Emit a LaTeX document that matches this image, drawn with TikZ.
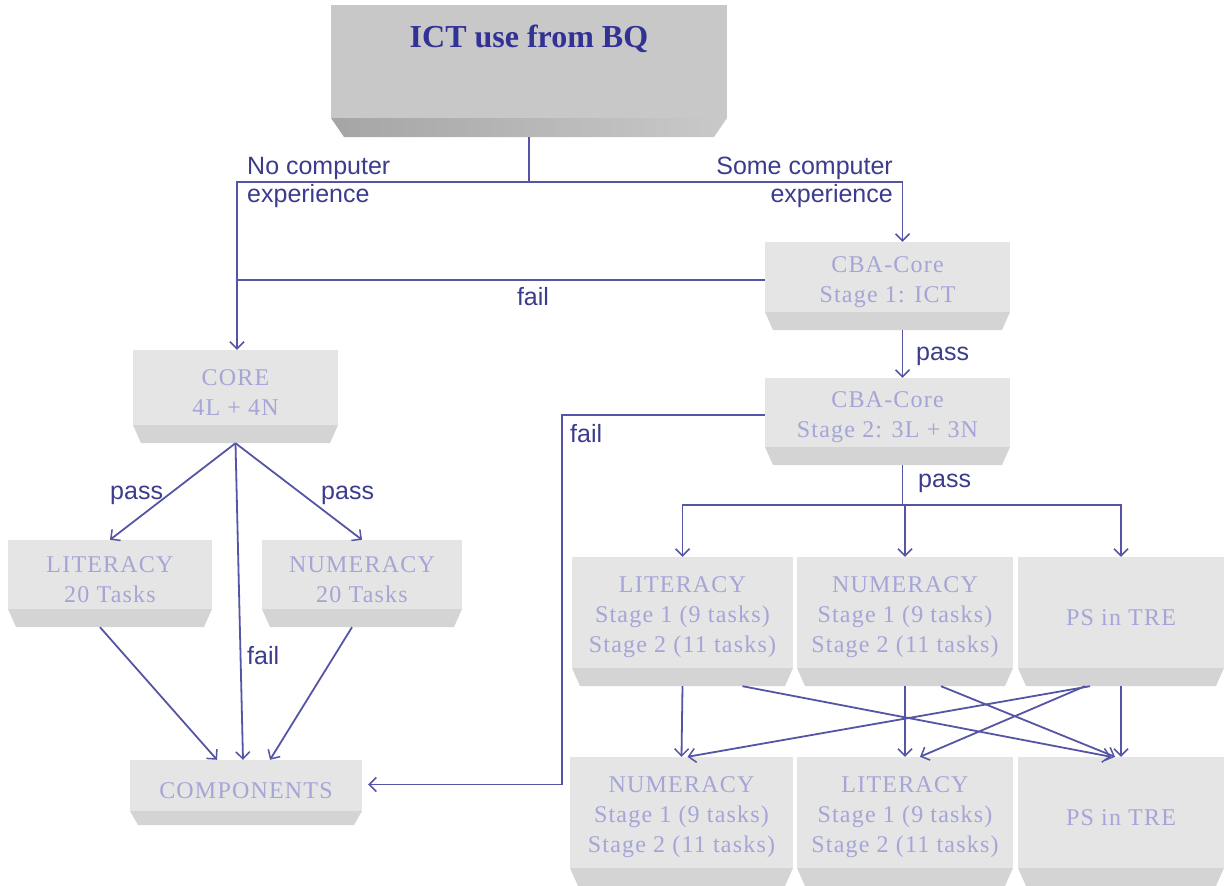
\documentclass[tikz,border=0pt]{standalone}
\usepackage{fontspec}
\setmainfont{Liberation Serif}
\newfontfamily\labfont{Liberation Sans}
\newfontfamily\boxfont[LetterSpace=5]{Liberation Serif}
\usetikzlibrary{arrows.meta,calc,fit}
\definecolor{ln}{RGB}{85,85,165}
\definecolor{labc}{RGB}{60,60,140}
\definecolor{face}{RGB}{229,229,229}
\definecolor{bev}{RGB}{212,212,212}
\definecolor{btxt}{RGB}{165,165,215}
\definecolor{tface}{RGB}{200,200,200}
\definecolor{tbev}{RGB}{165,165,165}
\definecolor{ttxt}{RGB}{50,50,150}
\tikzset{
  line/.style={draw=ln, line width=1.8pt},
  arr/.style={line, -{Straight Barb[length=7pt,width=14pt,line width=1.5pt]}},
  boxtext/.style={font=\boxfont\fontsize{24}{30}\selectfont, text=btxt, align=center, inner sep=0},
  lab/.style={font=\labfont\fontsize{25}{28}\selectfont, text=labc, inner sep=0},
}
\newcommand\bevbox[7]{%
  \fill[face] (#2,#3) rectangle (#4,{#5-#6});
  \fill[bev] (#2,{#5-#6}) -- (#4,{#5-#6}) -- ({#4-8},#5) -- ({#2+8},#5) -- cycle;
  \path (#2,#3) coordinate (#1-nw) (#4,#5) coordinate (#1-se);
  \node[boxtext] at ({(#2+#4)/2},{(#3+#5-#6)/2+5}) {#7};
  \node[fit=(#1-nw)(#1-se), inner sep=0, draw=none] (#1) {};
}
\begin{document}
\begin{tikzpicture}[x=1pt,y=-1pt]
\useasboundingbox[fill=white] (0,0) rectangle (1224,886);

% top box
\fill[tface] (331,5) rectangle (727,118);
\shade[left color=tbev, right color=tbev!60!white] (331,118) -- (727,118) -- (714,137) -- (344,137) -- cycle;
\path (331,5) coordinate (top-nw) (727,137) coordinate (top-se);
\node[fit=(top-nw)(top-se), inner sep=0] (top) {};
\node[font=\bfseries\fontsize{32}{38}\selectfont, text=ttxt, anchor=base, inner sep=0] (title) at (529,47) {ICT use from BQ};

% boxes
\bevbox{cbaa}{765}{242}{1010}{330}{18}{CBA-Core\\Stage 1: ICT}
\bevbox{cbab}{765}{378}{1010}{465}{18}{CBA-Core\\Stage 2: 3L + 3N}
\bevbox{core}{133}{350}{338}{443}{18}{CORE\\4L + 4N}
\bevbox{litt}{8}{540}{212}{627}{18}{LITERACY\\20 Tasks}
\bevbox{numt}{262}{540}{462}{627}{18}{NUMERACY\\20 Tasks}
\bevbox{comp}{130}{760}{362}{825}{14}{COMPONENTS}
\bevbox{litA}{572}{557}{793}{686}{18}{LITERACY\\Stage 1 (9 tasks)\\Stage 2 (11 tasks)}
\bevbox{numA}{797}{557}{1013}{686}{18}{NUMERACY\\Stage 1 (9 tasks)\\Stage 2 (11 tasks)}
\bevbox{psA}{1018}{557}{1224}{686}{18}{PS in TRE}
\bevbox{numB}{570}{757}{793}{886}{18}{NUMERACY\\Stage 1 (9 tasks)\\Stage 2 (11 tasks)}
\bevbox{litB}{797}{757}{1013}{886}{18}{LITERACY\\Stage 1 (9 tasks)\\Stage 2 (11 tasks)}
\bevbox{psB}{1018}{757}{1224}{886}{18}{PS in TRE}

% connectors top
\coordinate (sp) at ($(top.south)+(0,45)$);
\coordinate (corein) at ([xshift=1.5]core.north);
\draw[line] (top.south) -- (sp);
\draw[arr] (sp) -| (corein);
\draw[arr] (sp) -| ([xshift=15]cbaa.north);
\coordinate (f1) at ([yshift=6]cbaa.west);
\draw[line] (f1) -- (f1 -| corein);
\draw[arr] ([xshift=15]cbaa.south) -- ([xshift=15]cbab.north);
\coordinate (f2) at ([yshift=6.5]cbab.west);
\draw[arr] (f2) -- ++(-203,0) |- ([xshift=6,yshift=8]comp.east);
\coordinate (s2) at ($([xshift=15]cbab.south)+(0,40)$);
\draw[line] ([xshift=15]cbab.south) -- (s2);
\draw[arr] (s2) -| (litA.north);
\draw[arr] (s2) -| (psA.north);
\draw[arr] (s2 -| numA.north) -- (numA.north);

% middle to bottom
\draw[arr] (litA.south) -- (numB.north);
\draw[arr] (numA.south) -- (litB.north);
\draw[arr] (psA.south) -- (psB.north);
\draw[arr] ([xshift=60]litA.south) -- ([xshift=-10]psB.north);
\draw[arr] ([xshift=36]numA.south) -- ([xshift=-6]psB.north);
\draw[arr] ([xshift=-31]psA.south) -- ([xshift=6]numB.north);
\draw[arr] ([xshift=-36]psA.south) -- ([xshift=15]litB.north);

% left side
\draw[arr] (core.south) -- (litt.north);
\draw[arr] (core.south) -- (numt.north);
\draw[arr] (core.south) -- ([xshift=-3]comp.north);
\draw[arr] ([xshift=-10]litt.south) -- ([xshift=-29]comp.north);
\draw[arr] ([xshift=-10]numt.south) -- ([xshift=24]comp.north);

% labels
\node[lab, anchor=north west, align=left] (l1) at (247,157) {No computer\\experience};
\node[lab, anchor=north east, align=right] (l2) at (893,157) {Some computer\\experience};
\node[lab, anchor=base] (l3) at (533,305) {fail};
\node[lab, anchor=base west] (l4) at (916,360) {pass};
\node[lab, anchor=base west] (l5) at (570,442) {fail};
\node[lab, anchor=base west] (l6) at (918,487) {pass};
\node[lab, anchor=base west] (l7) at (110,499) {pass};
\node[lab, anchor=base west] (l8) at (321,499) {pass};
\node[lab, anchor=base west] (l9) at (247,664) {fail};
\end{tikzpicture}
\end{document}
